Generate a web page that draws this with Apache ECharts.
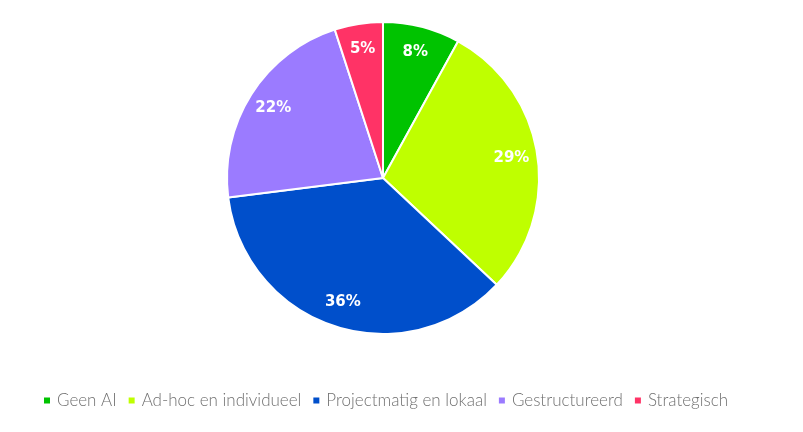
<!DOCTYPE html>
<html><head><meta charset="utf-8">
<script src="https://cdn.jsdelivr.net/npm/echarts@6/dist/echarts.min.js"></script>
<style>html,body{margin:0;padding:0;background:#fff}#c{width:803px;height:432px}</style>
</head><body><div id="c"></div>
<script>
const categories = ['Geen AI', 'Ad-hoc en individueel', 'Projectmatig en lokaal', 'Gestructureerd', 'Strategisch'];
const values = [8, 29, 36, 22, 5];
const colors = ['#00c300', '#bfff00', '#004fcb', '#9b7bff', '#ff3366'];

const chart = echarts.init(document.getElementById('c'));
const data = categories.map((n, i) => ({ name: n, value: values[i], itemStyle: { color: colors[i] } }));
chart.setOption({
  animation: false,
  legend: {
    top: 387, left: 37,
    itemWidth: 8, itemHeight: 8, itemGap: 10, icon: 'rect',
    textStyle: { color: '#707070', fontSize: 17, fontFamily: 'Lato', fontWeight: 300, padding: [0, 0, 0, 1] },
    data: categories
  },
  series: [{
    type: 'pie', center: [383, 178], radius: [0, 156],
    startAngle: 90, clockwise: true,
    itemStyle: { borderColor: '#fff', borderWidth: 2 },
    label: { show: false }, labelLine: { show: false },
    data: data
  }, {
    type: 'pie', center: [383, 178], radius: [98, 156], silent: true,
    startAngle: 90, clockwise: true,
    itemStyle: { color: 'rgba(0,0,0,0)' },
    label: { show: true, position: 'inside', formatter: '{d}%', color: '#fff',
      fontSize: 15, fontWeight: 'bold', fontFamily: 'DejaVu Sans' },
    labelLine: { show: false },
    data: categories.map((n, i) => ({ name: n + ' ', value: values[i] }))
  }]
});
</script></body></html>
